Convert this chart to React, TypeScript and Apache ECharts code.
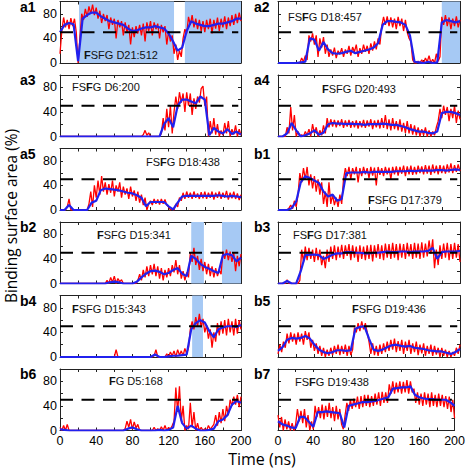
import React, { useEffect, useRef } from "react";
import * as echarts from "echarts";

// ---------- data ----------
const TIME_MAX = 200;
const THRESHOLD = 50;
const DASH_END = 197;
const X_TICKS = [0, 40, 80, 120, 160, 200];
const Y_TICKS = [0, 40, 80];

// red: raw traces sampled every 2 ns; blue: smoothed traces every 5 ns
const a1Red = [15,52,74,58,70,55,73,60,72,50,0,40,80,70,88,75,92,80,95,78,90,72,85,65,80,68,78,55,74,62,72,40,70,58,68,45,66,50,62,30,58,42,60,48,62,45,64,35,66,52,68,45,66,55,64,40,62,50,60,30,52,35,45,15,30,5,20,10,40,55,48,75,62,78,58,72,55,70,52,68,50,70,55,72,48,70,56,74,52,72,58,76,55,74,60,78,62,80,65,82,68];
const a1Blue = [50,62,65,63,3,72,78,82,82,76,72,68,66,64,62,56,52,53,56,58,58,60,58,56,48,35,20,25,52,68,64,62,60,60,62,64,64,66,68,72,72];
const a1Shade = [[21, 126], [138, 200]];

const a2Red = [0,0,0,0,0,0,0,0,0,0,0,0,0,8,2,12,5,45,35,48,30,45,10,40,25,42,15,30,10,22,12,25,8,20,14,24,10,22,15,28,12,26,18,30,10,24,15,30,18,28,15,32,20,35,22,40,30,60,75,62,76,60,74,58,72,55,75,60,72,52,70,50,40,35,5,0,0,3,0,5,0,8,2,12,0,6,0,15,3,10,75,62,78,60,74,55,72,60,76,58,70];
const a2Blue = [0,0,0,0,0,1,2,40,38,20,34,22,16,15,16,18,20,16,18,20,22,25,32,62,68,68,67,66,62,45,2,1,0,2,0,1,66,70,68,66,68];
const a2Shade = [[180, 200]];

const a3Red = [0,0,0,0,0,0,0,0,0,0,0,0,0,0,0,0,0,0,0,0,0,0,0,0,0,0,0,0,0,0,0,0,0,0,0,0,0,0,0,0,0,0,0,0,0,0,3,10,2,6,0,0,0,0,0,0,5,30,10,45,15,50,5,40,65,45,72,55,70,40,72,50,70,35,62,45,65,55,78,82,50,65,0,25,5,30,3,20,0,10,2,22,5,25,0,12,3,18,0,12,2];
const a3Blue = [0,0,0,0,0,0,0,0,0,0,0,0,0,0,0,0,0,0,0,0,0,0,0,20,30,15,50,60,60,57,54,65,60,2,14,8,5,12,4,8,3];

const a4Red = [0,0,0,0,0,15,5,48,10,35,0,8,0,3,0,8,2,12,0,20,5,15,0,10,2,18,5,30,15,28,16,27,15,26,17,28,14,26,16,27,14,25,15,26,13,25,15,27,14,26,16,28,12,26,15,27,13,30,14,35,12,28,10,30,12,25,10,28,8,22,6,25,5,20,3,18,2,15,0,12,2,15,0,10,0,8,2,15,25,45,30,50,35,48,25,45,30,50,22,42,28];
const a4Blue = [0,0,5,22,10,0,2,5,10,3,6,20,22,21,21,20,21,20,20,19,20,20,20,21,20,19,19,17,15,12,10,8,8,6,5,8,38,40,40,38,35];

const a5Red = [0,0,0,0,5,18,0,0,0,0,0,0,0,0,0,0,10,30,5,40,20,48,25,55,30,45,25,42,28,48,22,40,30,45,20,38,25,35,18,38,22,32,15,30,12,25,8,20,0,10,15,8,18,10,17,9,18,10,17,8,5,0,2,0,10,5,20,15,28,18,30,20,28,18,30,20,27,18,29,19,30,18,28,20,30,17,28,20,30,18,28,20,31,17,28,19,30,18,27,16,25];
const a5Blue = [0,0,8,0,0,0,0,12,15,32,35,34,33,32,30,28,27,24,20,6,13,13,13,13,6,1,12,22,23,23,23,23,23,23,23,24,23,22,23,22,21];

const b1Red = [0,0,0,0,0,0,3,8,2,15,5,25,60,45,68,50,70,40,58,35,55,30,50,25,45,10,30,5,45,10,25,8,20,5,25,10,50,68,55,70,50,68,58,70,45,68,55,70,58,68,52,70,56,69,40,70,57,68,55,70,58,69,50,70,58,71,56,70,59,72,55,71,58,72,57,70,58,72,60,71,58,73,59,72,57,74,60,72,58,73,60,72,59,74,61,76,60,73,62,74,63];
const b1Blue = [0,0,0,3,14,45,55,52,48,44,30,22,25,15,18,60,61,61,61,62,61,62,62,62,62,62,63,63,63,64,63,64,64,64,64,65,65,64,65,66,65];

const b2Red = [0,0,0,0,0,0,0,0,0,0,0,0,0,0,0,0,0,0,0,0,0,0,0,0,0,0,5,0,10,2,12,0,8,3,6,0,0,0,0,0,0,0,0,5,15,5,22,10,28,12,30,15,32,12,28,8,25,5,22,10,25,12,30,18,38,15,30,8,20,5,18,10,50,35,58,30,45,22,40,20,35,15,32,12,28,10,25,12,22,15,52,40,55,38,52,35,50,20,45,28,48];
const b2Blue = [0,0,0,0,0,0,0,0,0,0,0,2,3,2,0,0,0,3,10,16,20,21,19,15,17,22,25,16,12,45,40,32,27,24,20,17,46,48,46,36,42];
const b2Shade = [[145, 159], [179, 200]];

const b3Red = [0,0,0,0,0,6,0,0,0,0,0,0,5,55,35,60,38,58,40,55,35,58,38,55,30,45,25,55,35,60,40,62,38,60,42,63,40,62,45,64,38,62,42,60,35,62,40,60,38,62,40,63,36,62,42,64,40,62,38,65,42,64,40,66,42,64,38,65,42,64,40,66,44,64,40,66,42,65,40,67,42,65,44,70,48,72,25,55,30,62,40,65,42,66,38,64,40,66,42,64,35];
const b3Blue = [0,0,4,0,0,20,46,47,47,46,40,43,47,49,49,51,51,50,50,49,49,50,50,51,52,51,51,52,52,51,52,52,52,53,58,40,51,52,52,52,53];

const b4Red = [0,0,0,0,0,0,0,0,0,0,0,0,0,0,0,0,0,0,0,0,0,0,0,0,0,0,0,0,0,0,0,12,0,0,0,0,0,0,0,0,0,0,0,0,0,0,0,0,0,0,0,0,2,12,0,0,0,0,0,5,0,8,2,10,0,12,3,10,2,14,5,15,45,58,45,65,50,70,48,62,40,52,30,45,15,40,25,55,35,58,38,60,35,62,40,58,35,62,38,60,45];
const b4Blue = [0,0,0,0,0,0,0,0,0,0,0,0,0,0,0,0,0,0,0,0,0,4,0,0,1,2,2,3,4,45,55,60,56,42,32,45,48,50,50,49,52];
const b4Shade = [[146, 158]];

const b5Red = [5,20,8,25,15,38,22,40,25,38,20,40,25,38,20,42,28,40,15,28,10,22,5,18,2,15,0,12,2,15,3,18,5,20,3,18,5,20,2,18,3,12,48,40,55,42,58,45,55,40,25,5,22,3,18,2,20,5,22,8,25,10,28,12,30,8,26,10,28,5,25,10,28,5,22,8,25,3,20,6,22,2,18,5,20,2,18,4,15,0,15,2,12,0,10,0,8,2,15,5,20];
const b5Blue = [10,16,28,31,30,31,34,30,20,12,8,6,8,11,11,10,11,46,49,50,30,12,10,12,16,19,20,18,17,18,15,14,13,11,10,9,9,7,5,8,13];

const b6Red = [5,0,8,0,10,0,0,0,0,0,0,0,0,0,0,0,0,0,0,0,0,0,0,0,0,0,0,0,0,0,0,0,0,0,0,0,3,15,5,18,2,14,4,10,0,0,0,0,0,0,0,0,5,0,3,0,6,0,8,0,5,2,8,15,70,30,72,15,40,0,8,2,45,5,30,0,12,0,5,0,3,0,8,2,6,10,25,8,30,12,35,15,40,25,50,40,55,42,58,38,55];
const b6Blue = [2,1,0,0,0,0,0,0,0,0,0,0,0,0,0,3,5,2,0,0,0,0,1,0,1,5,40,12,3,8,3,0,0,1,3,15,18,25,42,48,45];

const b7Red = [25,5,22,0,18,2,15,0,12,0,10,35,15,32,12,35,5,25,0,15,2,40,22,38,20,42,18,40,22,45,20,38,15,40,18,35,10,2,25,45,32,50,35,52,38,55,35,56,38,58,40,58,38,56,40,60,42,62,40,63,45,62,45,75,60,80,60,78,62,80,60,79,62,82,60,80,62,68,45,62,42,60,40,62,42,60,38,62,40,58,38,60,40,58,38,56,35,55,30,50,20];
const b7Blue = [15,10,8,5,4,22,22,14,6,30,30,31,30,29,28,5,40,42,44,46,46,47,48,50,52,54,68,69,70,70,72,58,54,52,51,51,50,50,50,46,40];

type Panel = {
  label: string;
  pre: string;
  bold: string;
  post: string;
  red: number[];
  blue: number[];
  shade: number[][];
};

const panels: Panel[] = [
  { label: "a1", pre: "", bold: "F", post: "SFG D21:512", red: a1Red, blue: a1Blue, shade: a1Shade },
  { label: "a2", pre: "FS", bold: "F", post: "G D18:457", red: a2Red, blue: a2Blue, shade: a2Shade },
  { label: "a3", pre: "FS", bold: "F", post: "G D6:200", red: a3Red, blue: a3Blue, shade: [] },
  { label: "a4", pre: "", bold: "F", post: "SFG D20:493", red: a4Red, blue: a4Blue, shade: [] },
  { label: "a5", pre: "FS", bold: "F", post: "G D18:438", red: a5Red, blue: a5Blue, shade: [] },
  { label: "b1", pre: "", bold: "F", post: "SFG D17:379", red: b1Red, blue: b1Blue, shade: [] },
  { label: "b2", pre: "", bold: "F", post: "SFG D15:341", red: b2Red, blue: b2Blue, shade: b2Shade },
  { label: "b3", pre: "FS", bold: "F", post: "G D17:381", red: b3Red, blue: b3Blue, shade: [] },
  { label: "b4", pre: "", bold: "F", post: "SFG D15:343", red: b4Red, blue: b4Blue, shade: b4Shade },
  { label: "b5", pre: "", bold: "F", post: "SFG D19:436", red: b5Red, blue: b5Blue, shade: [] },
  { label: "b6", pre: "", bold: "F", post: "G D5:168", red: b6Red, blue: b6Blue, shade: [] },
  { label: "b7", pre: "FS", bold: "F", post: "G D19:438", red: b7Red, blue: b7Blue, shade: [] },
];

// ---------- layout (positions kept separate from data) ----------
const COL_LEFT = [60, 278];
const COL_WIDTH = [181, 182];
const ROW_TOP = [1.5, 75, 148.5, 222, 295.5, 369];
const ROW_H = 61.5;
const LABEL_X = [20, 254];
const NOTE_POS: number[][] = [
  [84, 55], [288, 17], [72, 87], [322, 89], [146, 162], [368, 200],
  [97, 235], [293, 235], [72, 309], [352, 309], [109, 381], [295, 382],
];

const FONT = "'Liberation Sans', Arial, sans-serif";
const RED = "#ff0000";
const BLUE = "#2121ee";
const SHADE = "#a6c9f4";
const FRAME = "#222";

function toXY(arr: number[]) {
  const step = TIME_MAX / (arr.length - 1);
  return arr.map((v, k) => [k * step, v]);
}

export default function App() {
  const ref = useRef<HTMLDivElement>(null);
  useEffect(() => {
    if (!ref.current) return;
    const chart = echarts.init(ref.current, undefined, { renderer: "svg" });
    const grid: any[] = [];
    const xAxis: any[] = [];
    const yAxis: any[] = [];
    const series: any[] = [];
    const graphic: any[] = [];

    panels.forEach((p, i) => {
      const col = i % 2;
      const row = Math.floor(i / 2);
      const isBottom = row === 5;
      grid.push({ left: COL_LEFT[col], top: ROW_TOP[row], width: COL_WIDTH[col], height: ROW_H });
      const common = {
        gridIndex: i,
        type: "value",
        min: 0,
        max: TIME_MAX,
        interval: 20,
        splitLine: { show: false },
        axisLine: { show: true, onZero: false, lineStyle: { color: FRAME, width: 1 } },
        axisTick: { show: true, inside: true, length: 3, lineStyle: { color: FRAME } },
      };
      xAxis.push({
        ...common,
        position: "bottom",
        axisLabel: {
          show: isBottom,
          color: "#000",
          fontFamily: FONT,
          fontSize: 12.5,
          margin: 4,
          showMinLabel: true,
          showMaxLabel: true,
          formatter: (v: number) => (X_TICKS.includes(v) ? String(v) : ""),
        },
      });
      xAxis.push({ ...common, position: "top", axisLabel: { show: false } });
      const ycommon = {
        gridIndex: i,
        type: "value",
        min: 0,
        max: 100,
        interval: 20,
        splitLine: { show: false },
        axisLine: { show: true, onZero: false, lineStyle: { color: FRAME, width: 1 } },
        axisTick: { show: true, inside: true, length: 3, lineStyle: { color: FRAME } },
      };
      yAxis.push({
        ...ycommon,
        position: "left",
        axisLabel: {
          show: col === 0,
          color: "#000",
          fontFamily: FONT,
          fontSize: 12.5,
          margin: 3,
          formatter: (v: number) => (Y_TICKS.includes(v) ? String(v) : ""),
        },
      });
      yAxis.push({ ...ycommon, position: "right", axisLabel: { show: false } });

      const xi = i * 2;
      const yi = i * 2;
      if (p.shade.length) {
        series.push({
          type: "line",
          xAxisIndex: xi,
          yAxisIndex: yi,
          data: [],
          z: 1,
          silent: true,
          markArea: {
            silent: true,
            itemStyle: { color: SHADE, opacity: 1 },
            data: p.shade.map((s) => [{ xAxis: s[0] }, { xAxis: s[1] }]),
          },
        });
      }
      series.push({
        type: "line",
        xAxisIndex: xi,
        yAxisIndex: yi,
        data: toXY(p.red),
        showSymbol: false,
        z: 2,
        lineStyle: { color: RED, width: 1.3 },
      });
      series.push({
        type: "line",
        xAxisIndex: xi,
        yAxisIndex: yi,
        data: toXY(p.blue),
        showSymbol: false,
        z: 3,
        lineStyle: { color: BLUE, width: 2.2 },
      });
      series.push({
        type: "line",
        xAxisIndex: xi,
        yAxisIndex: yi,
        data: [[0, THRESHOLD], [DASH_END, THRESHOLD]],
        showSymbol: false,
        z: 4,
        lineStyle: { color: "#000", width: 2, type: [13, 8.5] },
      });

      graphic.push({
        type: "text",
        left: LABEL_X[col],
        top: ROW_TOP[row] - 2,
        style: { text: p.label, font: `bold 14px ${FONT}`, fill: "#000" },
      });
      graphic.push({
        type: "text",
        x: NOTE_POS[i][0],
        y: NOTE_POS[i][1],
        z: 10,
        style: {
          text: (p.pre ? `{n|${p.pre}}` : "") + `{b|${p.bold}}{n|${p.post}}`,
          verticalAlign: "middle",
          rich: {
            n: { fontFamily: FONT, fontSize: 11, fill: "#111" },
            b: { fontFamily: FONT, fontSize: 11, fontWeight: "bold", fill: "#111" },
          },
        },
      });
    });

    graphic.push({
      type: "text",
      x: 262,
      y: 459,
      style: {
        text: "Time (ns)",
        font: `16px 'Open Sans', sans-serif`,
        fill: "#000",
        align: "center",
        verticalAlign: "middle",
      },
    });
    graphic.push({
      type: "text",
      x: 11,
      y: 216,
      rotation: Math.PI / 2,
      style: {
        text: "Binding surface area (%)",
        font: `15.5px 'Open Sans', sans-serif`,
        fill: "#000",
        align: "center",
        verticalAlign: "middle",
      },
    });

    chart.setOption({
      animation: false,
      backgroundColor: "#fff",
      grid,
      xAxis,
      yAxis,
      series,
      graphic,
    });
    return () => chart.dispose();
  }, []);
  return (
    <div
      ref={ref}
      style={{ position: "fixed", left: 0, top: 0, width: 468, height: 469 }}
    />
  );
}
